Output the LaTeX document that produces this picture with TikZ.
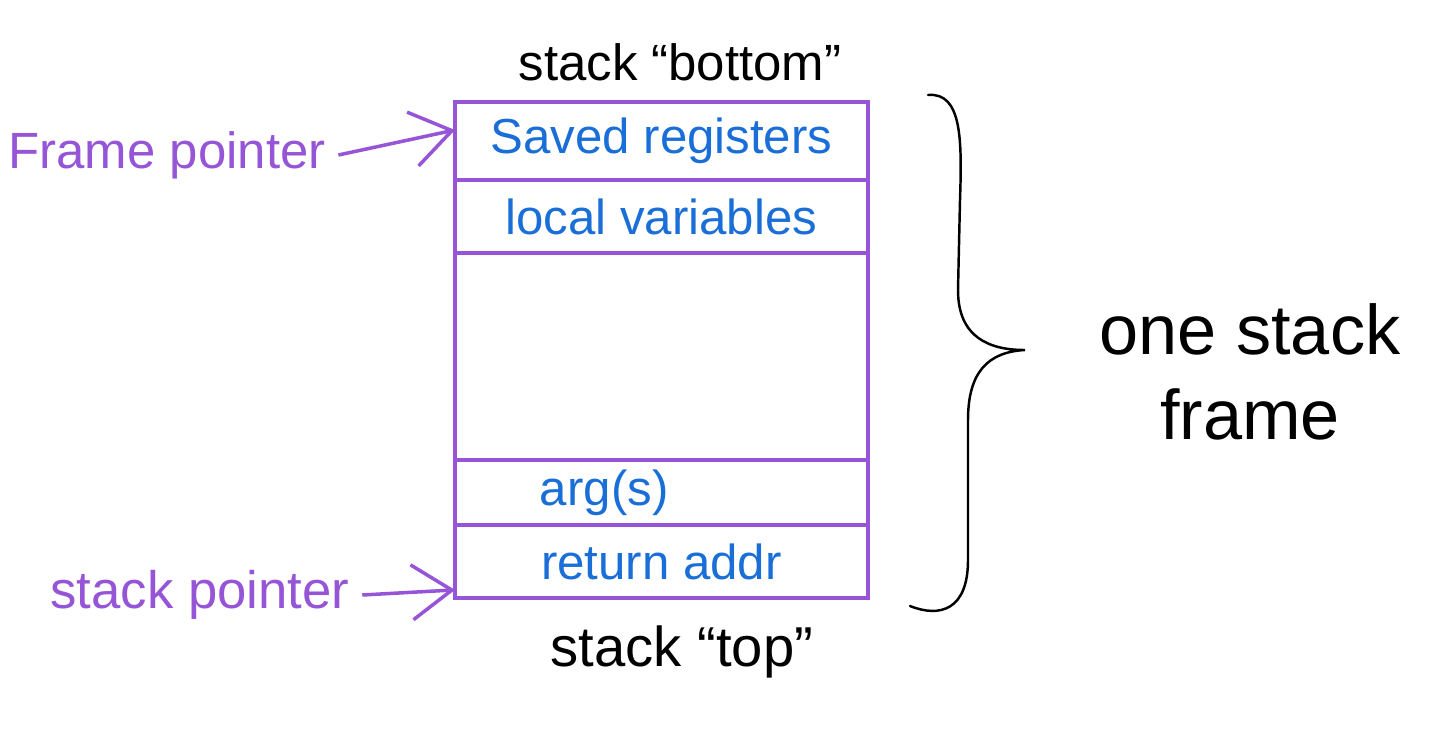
\documentclass[tikz,border=0pt]{standalone}
\usepackage{fontspec}
\setmainfont{Liberation Sans}
\usetikzlibrary{positioning,arrows.meta}

\definecolor{penpurple}{RGB}{150,85,215}
\definecolor{penblue}{RGB}{25,110,215}
\tikzset{
	row/.style={draw=penpurple, line width=2pt, minimum width=8.26cm, inner sep=0pt, outer sep=0pt,
		text=penblue, font=\fontsize{28}{32}\selectfont},
	ptrlabel/.style={text=penpurple, font=\fontsize{29}{34}\selectfont, inner sep=0pt},
	ptr/.style={penpurple, line width=2pt, -{Straight Barb[length=0.8cm,width=1.1cm,line width=2pt]}},
	inktext/.style={font=\fontsize{29}{34}\selectfont, inner sep=0pt}
}

\begin{document}
\begin{tikzpicture}[x=0.02cm, y=-0.02cm]
	\useasboundingbox (0,0) rectangle (1440,734);

	% the frame, top to bottom
	\node[row, minimum height=1.56cm, anchor=north west] (saved) at (455,102) {Saved registers};
	\node[row, minimum height=1.46cm, below=0pt of saved] (locals) {local variables};
	\node[row, minimum height=4.14cm, below=0pt of locals] (gap) {};
	\node[row, minimum height=1.30cm, below=0pt of gap, text width=8.26cm, align=left] (args) {\hspace*{1.7cm}arg(s)};
	\node[row, minimum height=1.46cm, below=0pt of args] (ret) {return addr};

	\node[inktext] (bottom) at (680,62) {stack “bottom”};
	\node[inktext, font=\fontsize{32}{36}\selectfont] (top) at (682,652) {stack “top”};

	% pointers
	\node[ptrlabel] (fp) at (167,155) {Frame pointer};
	\node[ptrlabel, font=\fontsize{30}{34}\selectfont] (sp) at (200,595) {stack pointer};
	\draw[ptr] (fp.east) ++(0.25cm,0) -- ([yshift=0.22cm]saved.west);
	\draw[ptr] (sp.east) ++(0.25cm,0) -- ([yshift=0.16cm]ret.south west);

	% brace
	\draw[line width=1.4pt, line cap=round] (928,95) .. controls (962,92) and (962,140) .. (960,200)
		-- (958,290) .. controls (958,338) and (990,350) .. (1025,350)
		.. controls (988,352) and (968,372) .. (968,420) -- (968,560)
		.. controls (968,610) and (940,618) .. (910,606);
	\node[inktext, font=\fontsize{40}{48}\selectfont, align=center] (frame) at (1250,372) {one stack\\frame};
\end{tikzpicture}
\end{document}
